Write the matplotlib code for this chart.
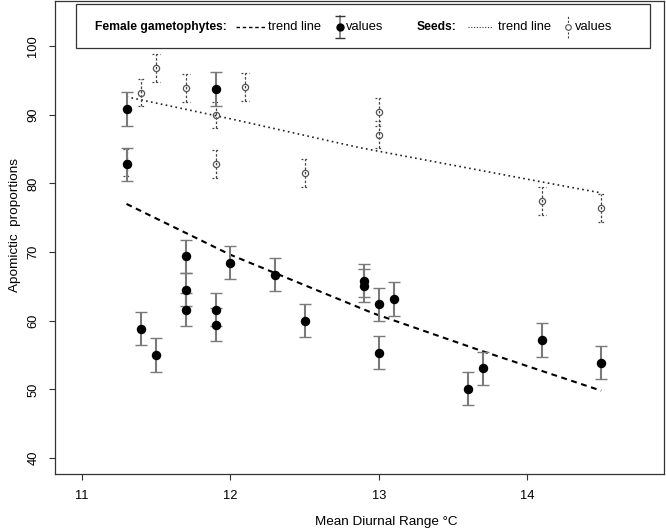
import numpy as np
import matplotlib
matplotlib.use("Agg")
import matplotlib.pyplot as plt

plt.rcParams['font.family'] = ['Liberation Sans', 'DejaVu Sans']

# female gametophytes (filled points)
fem_x = [11.3, 11.3, 11.4, 11.5, 11.7, 11.7, 11.7, 11.9, 11.9, 11.9, 12.0,
         12.3, 12.5, 12.9, 12.9, 13.0, 13.0, 13.1, 13.6, 13.7, 14.1, 14.5]
fem_y = [90.8, 82.8, 58.8, 55.0, 69.4, 64.5, 61.6, 93.7, 61.6, 59.4, 68.4,
         66.7, 60.0, 65.8, 65.1, 62.4, 55.3, 63.2, 50.1, 53.1, 57.2, 53.9]
fem_err = [2.45, 2.4, 2.4, 2.45, 2.4, 2.4, 2.4, 2.5, 2.4, 2.4, 2.4,
           2.4, 2.4, 2.4, 2.4, 2.4, 2.4, 2.45, 2.45, 2.4, 2.45, 2.4]

# seeds (open points)
seed_x = [11.3, 11.4, 11.5, 11.7, 11.9, 11.9, 12.1, 12.5, 13.0, 13.0, 14.1, 14.5]
seed_y = [83.0, 93.2, 96.8, 93.9, 90.0, 82.8, 94.0, 81.5, 90.4, 87.1, 77.4, 76.4]
seed_err = [2.0, 2.0, 2.0, 2.0, 1.9, 2.0, 2.0, 2.0, 2.0, 2.0, 2.05, 2.05]

# trend lines
fem_trend_x = [11.3, 12.0, 12.96, 13.68, 14.5]
fem_trend_y = [77.0, 69.6, 61.1, 55.7, 49.8]
seed_trend_x = [11.3, 12.0, 12.87, 14.1, 14.5]
seed_trend_y = [92.6, 89.4, 85.2, 80.2, 78.6]

fig = plt.figure(figsize=(6.66, 5.30), dpi=100)
ax = fig.add_axes([55/666, 56/530, 609/666, 473/530])

# trend lines
ax.plot(fem_trend_x, fem_trend_y, color='black', lw=1.5, linestyle=(0, (2.8, 2.2)))
ax.plot(seed_trend_x, seed_trend_y, color='#222222', lw=1.2, linestyle=(0, (1, 2)))

# seeds with dashed error bars
eb = ax.errorbar(seed_x, seed_y, yerr=seed_err, fmt='none', ecolor='#444444',
                 elinewidth=0.9, capsize=0)
eb[2][0].set_linestyle((0, (2, 1.5)))
sx = np.array(seed_x)
sy = np.array(seed_y)
se = np.array(seed_err)
for yy in (sy + se, sy - se):
    ax.hlines(yy, sx - 0.025, sx + 0.025, colors='#444444', lw=0.9,
              linestyles=[(0, (1.5, 1.5))])
ax.plot(seed_x, seed_y, 'o', ms=4.5, mfc='none', mec='#555555', mew=0.9)

# female gametophytes with solid error bars
eb2 = ax.errorbar(fem_x, fem_y, yerr=fem_err, fmt='o', color='black', ms=5.8,
                  ecolor='#7a7a7a', elinewidth=1.5, capsize=4, capthick=1.0)
for c in eb2[1]:
    c.set_color('#333333')

ax.set_xlim(10.818, 14.923)
ax.set_ylim(37.67, 106.55)
ax.set_xticks([11, 12, 13, 14])
ax.set_yticks([40, 50, 60, 70, 80, 90, 100])
ax.tick_params(direction='out', length=4.3, width=0.8, color='#333333',
               labelsize=9.3, pad=7)
ax.tick_params(axis='y', labelrotation=90)
for t in ax.get_yticklabels():
    t.set_va('center')
for s in ax.spines.values():
    s.set_color('#333333')
    s.set_linewidth(0.9)

ax.set_xlabel('Mean Diurnal Range \u00b0C', fontsize=9.7)
ax.xaxis.set_label_coords((386 - 55) / 609, (474 - 522) / 473)
ax.xaxis.label.set_va('center')
ax.set_ylabel('Apomictic  proportions', fontsize=9.7)
ax.yaxis.set_label_coords((15 - 55) / 609, (474 - 225) / 473)
ax.yaxis.label.set_va('center')

# legend box drawn by hand
def fx(px):
    return (px - 55) / 609

def fy(py):
    return (474 - py) / 473

ax.add_patch(plt.Rectangle((fx(76), fy(48)), fx(650) - fx(76), fy(4) - fy(48),
                           transform=ax.transAxes, fill=False, lw=0.9,
                           edgecolor='#333333', clip_on=False))
ly = fy(27)
ax.text(fx(95), ly, 'Female gametophytes:', transform=ax.transAxes,
        fontsize=8.7, fontweight='bold', va='center', ha='left')
ax.plot([fx(236), fx(265)], [ly, ly], transform=ax.transAxes, color='black',
        lw=1.0, linestyle=(0, (2.5, 2)), clip_on=False)
ax.text(fx(268), ly, 'trend line', transform=ax.transAxes, fontsize=9.3,
        va='center', ha='left')
lx = fx(340)
ax.plot([lx, lx], [fy(38), fy(16)], transform=ax.transAxes, color='#7a7a7a',
        lw=1.2, clip_on=False)
ax.plot([lx, lx], [fy(38), fy(16)], transform=ax.transAxes, ls='none',
        marker='_', ms=7, mew=1.0, color='#333333', clip_on=False)
ax.plot([lx], [ly], transform=ax.transAxes, marker='o', ms=5, color='black',
        clip_on=False)
ax.text(fx(346), ly, 'values', transform=ax.transAxes, fontsize=9.3,
        va='center', ha='left')

ax.text(fx(417), ly, 'Seeds:', transform=ax.transAxes, fontsize=8.7,
        fontweight='bold', va='center', ha='left')
ax.plot([fx(468), fx(493)], [ly, ly], transform=ax.transAxes, color='#333333',
        lw=0.8, linestyle=(0, (1, 1.5)), clip_on=False)
ax.text(fx(498), ly, 'trend line', transform=ax.transAxes, fontsize=9.3,
        va='center', ha='left')
lx = fx(568)
ax.plot([lx, lx], [fy(38), fy(16)], transform=ax.transAxes, color='#444444',
        lw=0.8, linestyle=(0, (2, 1.5)), clip_on=False)
ax.plot([lx], [ly], transform=ax.transAxes, marker='o', ms=4, mfc='white',
        mec='#555555', mew=0.8, clip_on=False)
ax.text(fx(575), ly, 'values', transform=ax.transAxes, fontsize=9.3,
        va='center', ha='left')

fig.savefig('out.png', dpi=100)
